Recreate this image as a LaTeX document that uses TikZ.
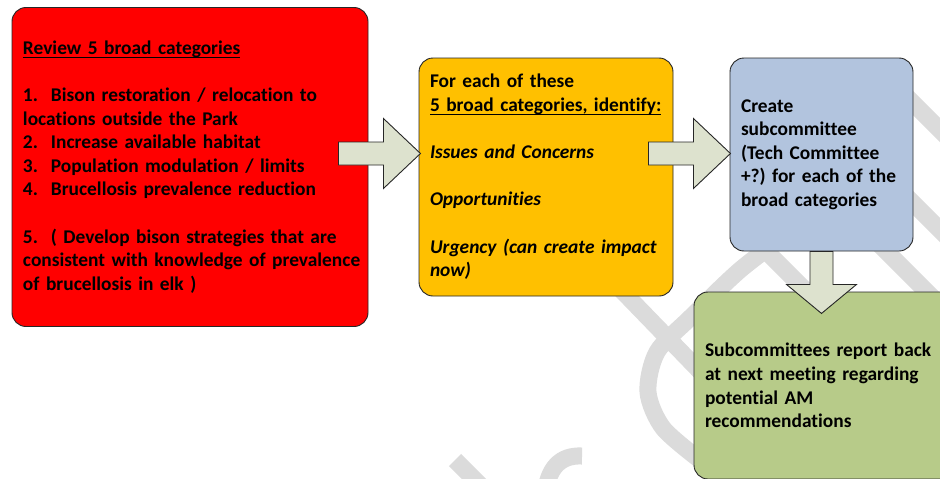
\documentclass[tikz,border=0pt]{standalone}
\usepackage{fontspec}
\setmainfont{Carlito}[Ligatures={NoCommon}]
\usetikzlibrary{calc}

\definecolor{redbox}{HTML}{FF0000}
\definecolor{yellowbox}{HTML}{FFC000}
\definecolor{bluebox}{HTML}{B2C4DE}
\definecolor{greenbox}{HTML}{B7CB89}
\definecolor{arrowfill}{HTML}{DDE2CE}

% underlined heading line
\newsavebox\ulbox
\newcommand{\undl}[1]{\leavevmode\sbox\ulbox{#1}\rlap{\rule[-3.6pt]{\wd\ulbox}{1.2pt}}\usebox\ulbox}

\tikzset{
  box/.style={draw=black!85, line width=0.9pt, rounded corners=14pt, align=left,
    inner xsep=11pt, inner ysep=0pt, font=\bfseries\fontsize{19.4}{23.6}\selectfont,
    execute at begin node={\frenchspacing\hyphenpenalty=10000\exhyphenpenalty=10000}},
  blockarrow/.style={draw=black!85, line width=0.9pt, fill=arrowfill},
  draft/.style={draw=black!14, line width=17pt},
  pics/fatarrow/.style 2 args={code={
    \draw[blockarrow] (0,-11.5) -- ({#1-#2},-11.5) -- ({#1-#2},-35) -- (#1,0)
      -- ({#1-#2},35) -- ({#1-#2},11.5) -- (0,11.5) -- cycle;
  }}
}

\begin{document}
\begin{tikzpicture}[x=1pt,y=-1pt]
  \clip (0,0) rectangle (940,479);
  \fill[white] (0,0) rectangle (940,479);

  % faint watermark strokes behind the boxes
  \draw[draft] (455,460) -- (490,495);
  \draw[draft] (545,495) .. controls (548,468) and (560,455) .. (582,456);
  \draw[draft] (600,268) -- (720,392);
  \draw[draft] plot[smooth] coordinates {(790,232) (740,270) (690,318) (657,352) (648,392) (663,428) (700,460)};
  \draw[draft] (750,235) -- (815,300);
  \draw[draft] (900,90) -- (955,145);
  \draw[draft] (895,185) -- (955,245);
  \draw[draft] (870,235) -- (950,315);

  % boxes
  \node[box, fill=redbox, text width=334pt, minimum height=319pt] (review) at (190,167) {%
    \undl{Review 5 broad categories}\\[23.6pt]
    1.~ Bison restoration / relocation to\\
    locations outside the Park\\
    2.~ Increase available habitat\\
    3.~ Population modulation / limits\\
    4.~ Brucellosis prevalence reduction\\[23.6pt]
    5.~ ( Develop bison strategies that are\\
    \mbox{consistent with knowledge of prevalence}\\
    of brucellosis in elk )};
  \node[box, fill=yellowbox, text width=232pt, minimum height=238pt] (identify) at (546,177) {%
    For each of these\\
    \undl{5 broad categories, identify:}\\[23.6pt]
    \textit{Issues and Concerns}\\[23.6pt]
    \textit{Opportunities}\\[23.6pt]
    \textit{Urgency (can create impact}\\
    \textit{now)}};
  \node[box, fill=bluebox, text width=161pt, minimum height=193pt] (subcomm) at (821.5,154.5) {%
    Create\\
    subcommittee\\
    (Tech Committee\\
    +?) for each of the\\
    broad categories};
  \node[box, fill=greenbox, text width=244pt, minimum height=187pt] (report) at (827,385.5) {%
    Subcommittees report back\\
    at next meeting regarding\\
    potential AM\\
    recommendations};

  % block arrows
  \pic at ($(review.east)+(-30,-13.5)$) {fatarrow={82}{37}};
  \pic at ($(identify.east)+(-25,-23.5)$) {fatarrow={82}{37}};
  \pic[rotate=-90] at (subcomm.south) {fatarrow={62}{29}};
\end{tikzpicture}
\end{document}
